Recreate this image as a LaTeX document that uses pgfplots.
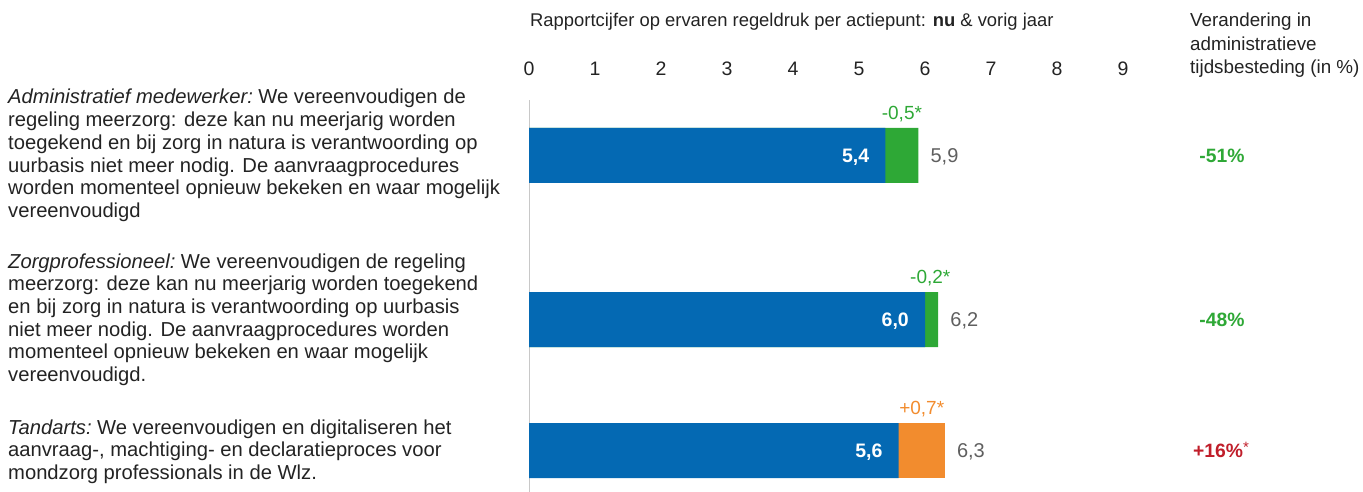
\documentclass[border=0pt]{standalone}
\usepackage{pgfplots}
\pgfplotsset{compat=1.18}
\usepackage{fontspec}
\setmainfont{Liberation Sans}
\definecolor{cblue}{RGB}{4,105,179}
\definecolor{cgreen}{RGB}{46,168,54}
\definecolor{corange}{RGB}{242,140,46}
\definecolor{cred}{RGB}{192,30,42}
\definecolor{cgray}{RGB}{95,95,95}
\definecolor{ctext}{RGB}{35,35,35}
\newcommand{\tline}[3]{\node[anchor=base west, inner sep=0pt, font=\fontsize{20.2}{22}\selectfont, text=ctext] at (#1,-#2) {#3};}
\begin{document}
\begin{tikzpicture}[x=1pt,y=1pt]
\useasboundingbox (0,0) rectangle (1363,-492);
\begin{axis}[
  at={(529pt,-492pt)}, anchor=south west,
  width=627pt, height=392pt, scale only axis,
  xmin=0, xmax=9.5, ymin=-492, ymax=-100,
  axis x line*=top, axis y line*=left,
  x axis line style={draw=none},
  y axis line style={draw={rgb,255:red,200;green,200;blue,200}, line width=1pt},
  xtick={0,1,2,3,4,5,6,7,8,9}, ytick=\empty,
  major tick length=0pt,
  /pgf/number format/assume math mode=true,
  xticklabel style={anchor=base, yshift=24pt, font=\fontsize{19.5}{21}\selectfont, text=ctext},
  clip=false,
]
% totals (previous year) as background bars
\addplot[xbar, bar width=55pt, bar shift=0pt, fill=cgreen, draw=none,
  nodes near coords, point meta=explicit symbolic,
  every node near coord/.append style={anchor=base west, inner sep=0pt, xshift=12pt, yshift=-7pt, text=cgray, font=\fontsize{20}{22}\selectfont}]
  coordinates {(5.9,-155.5) [5,9] (6.2,-319.5) [6,2]};
\addplot[xbar, bar width=55pt, bar shift=0pt, fill=corange, draw=none,
  nodes near coords, point meta=explicit symbolic,
  every node near coord/.append style={anchor=base west, inner sep=0pt, xshift=12pt, yshift=-7pt, text=cgray, font=\fontsize{20}{22}\selectfont}]
  coordinates {(6.3,-450.5) [6,3]};
% current values
\addplot[xbar, bar width=55pt, bar shift=0pt, fill=cblue, draw=none,
  nodes near coords, point meta=explicit symbolic,
  every node near coord/.append style={anchor=base east, inner sep=0pt, xshift=-16pt, yshift=-7pt, text=white, font=\fontsize{19.5}{22}\selectfont\bfseries}]
  coordinates {(5.4,-155.5) [5,4] (6.0,-319.5) [6,0] (5.6,-450.5) [5,6]};
% differences
\addplot[draw=none, mark=none,
  nodes near coords, point meta=explicit symbolic,
  every node near coord/.append style={anchor=base, inner sep=0pt, yshift=36pt, text=cgreen, font=\fontsize{19}{21}\selectfont}]
  coordinates {(5.65,-155.5) [-0,5*] (6.08,-319.5) [-0,2*]};
\addplot[draw=none, mark=none,
  nodes near coords, point meta=explicit symbolic,
  every node near coord/.append style={anchor=base, inner sep=0pt, yshift=36pt, text=corange, font=\fontsize{19}{21}\selectfont}]
  coordinates {(5.95,-450.5) [+0,7*]};
\end{axis}
% header
\node[anchor=base west, inner sep=0pt, font=\fontsize{18.4}{21}\selectfont, text=ctext] at (530,-27) {Rapportcijfer op ervaren regeldruk per actiepunt: \textbf{nu} \& vorig jaar};
\node[anchor=base west, inner sep=0pt, font=\fontsize{18.8}{21}\selectfont, text=ctext] at (1190,-27) {Verandering in};
\node[anchor=base west, inner sep=0pt, font=\fontsize{18.8}{21}\selectfont, text=ctext] at (1190,-50.5) {administratieve};
\node[anchor=base west, inner sep=0pt, font=\fontsize{18.8}{21}\selectfont, text=ctext] at (1190,-74) {tijdsbesteding (in \%)};
% right column
\node[anchor=base, inner sep=0pt, font=\fontsize{19.3}{21}\selectfont\bfseries, text=cgreen] at (1222,-162.5) {-51\%};
\node[anchor=base, inner sep=0pt, font=\fontsize{19.3}{21}\selectfont\bfseries, text=cgreen] at (1222,-326.5) {-48\%};
\node[anchor=base west, inner sep=0pt, font=\fontsize{19.3}{21}\selectfont\bfseries, text=cred] at (1193,-457.5) {+16\%\raisebox{5pt}{\mdseries\fontsize{15}{15}\selectfont *}};
% left texts
\tline{8}{104}{\textit{Administratief medewerker:}\hspace{-2pt} We vereenvoudigen de}
\tline{8}{126.7}{regeling meerzorg: deze kan nu meerjarig worden}
\tline{8}{149.4}{toegekend en bij zorg in natura is verantwoording op}
\tline{8}{172.1}{uurbasis niet meer nodig. De aanvraagprocedures}
\tline{8}{194.8}{worden momenteel opnieuw bekeken en waar mogelijk}
\tline{8}{217.5}{vereenvoudigd}
\tline{8}{268}{\textit{Zorgprofessioneel:}\hspace{-2pt} We vereenvoudigen de regeling}
\tline{8}{290.7}{meerzorg: deze kan nu meerjarig worden toegekend}
\tline{8}{313.4}{en bij zorg in natura is verantwoording op uurbasis}
\tline{8}{336.1}{niet meer nodig. De aanvraagprocedures worden}
\tline{8}{358.8}{momenteel opnieuw bekeken en waar mogelijk}
\tline{8}{381.5}{vereenvoudigd.}
\tline{8}{434}{\textit{Tandarts:}\hspace{-2pt} We vereenvoudigen en digitaliseren het}
\tline{8}{456.7}{aanvraag-, machtiging- en declaratieproces voor}
\tline{8}{479.4}{mondzorg professionals in de Wlz.}
\end{tikzpicture}
\end{document}
